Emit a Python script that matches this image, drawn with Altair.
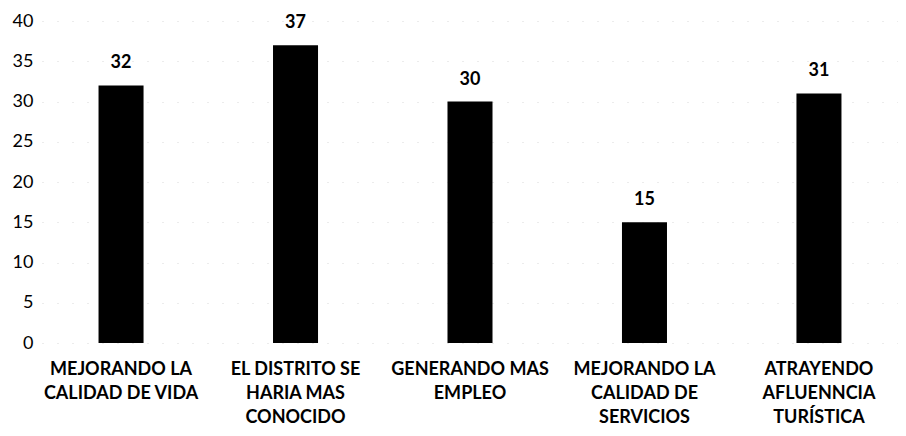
import altair as alt
import pandas as pd

categories = [
    "MEJORANDO LA|CALIDAD DE VIDA",
    "EL DISTRITO SE|HARIA MAS|CONOCIDO",
    "GENERANDO MAS|EMPLEO",
    "MEJORANDO LA|CALIDAD DE|SERVICIOS",
    "ATRAYENDO|AFLUENNCIA|TURÍSTICA",
]
values = [32, 37, 30, 15, 31]
y_ticks = [0, 5, 10, 15, 20, 25, 30, 35, 40]

df = pd.DataFrame({"cat": categories, "val": values})
FONT = "Lato"

x = alt.X(
    "cat:N",
    sort=categories,
    title=None,
    scale=alt.Scale(paddingInner=0.742, paddingOuter=0.324),
    axis=alt.Axis(
        labelExpr="split(datum.value, '|')",
        labelAngle=0,
        labelFont=FONT,
        labelFontSize=18,
        labelFontWeight="bold",
        labelColor="#000000",
        labelLineHeight=24,
        labelBaseline="top",
        labelPadding=17,
        ticks=False,
        domain=False,
        labelLimit=300,
    ),
)
y = alt.Y(
    "val:Q",
    title=None,
    scale=alt.Scale(domain=[0, 40], nice=False),
    axis=alt.Axis(
        values=y_ticks,
        labelFont=FONT,
        labelFontSize=18,
        labelColor="#000000",
        labelPadding=9,
        ticks=False,
        domain=False,
        grid=True,
        gridColor="#d8d8d8",
        gridDash=[1, 14],
        gridWidth=1,
    ),
)

bars = alt.Chart(df).mark_bar(color="#000000").encode(x=x, y=y)
text = alt.Chart(df).mark_text(
    font=FONT, fontSize=18, fontWeight="bold", color="#000000",
    baseline="alphabetic", dy=-17,
).encode(x=alt.X("cat:N", sort=categories), y="val:Q", text="val:Q")

chart = (
    alt.layer(bars, text)
    .properties(
        width=856,
        height=322,
        autosize=alt.AutoSizeParams(type="none"),
        padding={"left": 34, "top": 13, "right": 0, "bottom": 85},
        background="#ffffff",
    )
    .configure_view(stroke=None)
)

chart.save("out.html", embed_options={"renderer": "svg", "actions": False})
